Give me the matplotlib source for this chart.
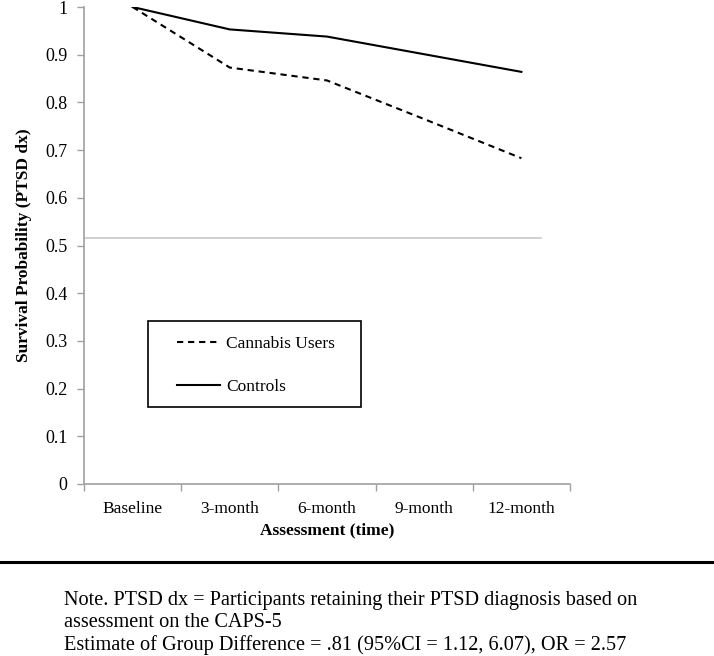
import matplotlib
matplotlib.use("Agg")
import matplotlib.pyplot as plt
from matplotlib.lines import Line2D
from matplotlib.patches import Rectangle

plt.rcParams['font.family'] = ['Liberation Serif', 'DejaVu Serif']

# data
timepoints = ["Baseline", "3-month", "6-month", "9-month", "12-month"]
cannabis = [1.0, 0.873, 0.846, 0.765, 0.683]
controls = [1.0, 0.953, 0.938, 0.901, 0.864]
ref_line = 0.516
yticks = [0, 0.1, 0.2, 0.3, 0.4, 0.5, 0.6, 0.7, 0.8, 0.9, 1]
ytick_labels = ["0", "0.1", "0.2", "0.3", "0.4", "0.5", "0.6", "0.7", "0.8", "0.9", "1"]

W, H = 714, 656
fig = plt.figure(figsize=(W / 100, H / 100), dpi=100)

# axes box in pixel terms
left, right, top, bottom = 84, 570, 7, 484
ax = fig.add_axes([left / W, (H - bottom) / H, (right - left) / W, (bottom - top) / H])

def ax_x(px):
    return (px - left) / (right - left)

def ax_y(py):
    return (bottom - py) / (bottom - top)

dash = (0, (3.0, 2.3))
xs = list(range(len(timepoints)))
ax.plot(xs, cannabis, color="black", lw=1.5, ls=dash)
ax.plot(xs, controls, color="black", lw=1.5)

# faint gray horizontal line
ax.axhline(ref_line, xmin=0, xmax=ax_x(541), color="#c8c8c8", lw=1.2)

ax.set_xlim(-0.5, len(timepoints) - 0.5)
ax.set_ylim(0, 1)

ax.set_yticks(yticks)
ax.set_yticklabels(ytick_labels, fontsize=13)
ax.set_xticks(xs)
ax.set_xticklabels(timepoints, fontsize=12.5)
ax.set_xticks([x - 0.5 for x in range(len(timepoints) + 1)], minor=True)
ax.tick_params(axis="x", which="major", length=0, pad=12)
ax.tick_params(axis="x", which="minor", length=5, color="#a0a0a0", width=1)
ax.tick_params(axis="y", length=5, color="#a0a0a0", width=1, pad=7)

for s in ["top", "right"]:
    ax.spines[s].set_visible(False)
for s in ["left", "bottom"]:
    ax.spines[s].set_color("#a0a0a0")
    ax.spines[s].set_linewidth(1.2)

ax.set_xlabel("Assessment (time)", fontsize=12.5, fontweight="bold", labelpad=4)
ax.set_ylabel("Survival Probability (PTSD dx)", fontsize=12.5, fontweight="bold", labelpad=9)

# legend: frame drawn as a patch, entries via legend
ax.add_patch(Rectangle((ax_x(148), ax_y(407)), ax_x(361) - ax_x(148), ax_y(321) - ax_y(407),
                       transform=ax.transAxes, fill=False, edgecolor="black", lw=1.2, zorder=3))
handles = [
    Line2D([], [], color="black", lw=1.5, ls=dash),
    Line2D([], [], color="black", lw=1.5),
]
ax.legend(handles, ["Cannabis Users", "Controls"], loc="upper left",
          bbox_to_anchor=(ax_x(177), ax_y(336)), frameon=False, fontsize=12.5,
          handlelength=2.5, handletextpad=0.35, labelspacing=1.55,
          borderpad=0, borderaxespad=0)

# rule and note below
fig.add_artist(Line2D([0, 1], [(H - 562) / H] * 2, color="black", lw=2.2, transform=fig.transFigure))
note_lines = [
    "Note. PTSD dx = Participants retaining their PTSD diagnosis based on",
    "assessment on the CAPS-5",
    "Estimate of Group Difference = .81 (95%CI = 1.12, 6.07), OR = 2.57",
]
for i, line in enumerate(note_lines):
    fig.text(64 / W, (H - (600 + i * 22.5)) / H, line, fontsize=14.6, va="center", ha="left")

fig.savefig("out.png", dpi=100)
